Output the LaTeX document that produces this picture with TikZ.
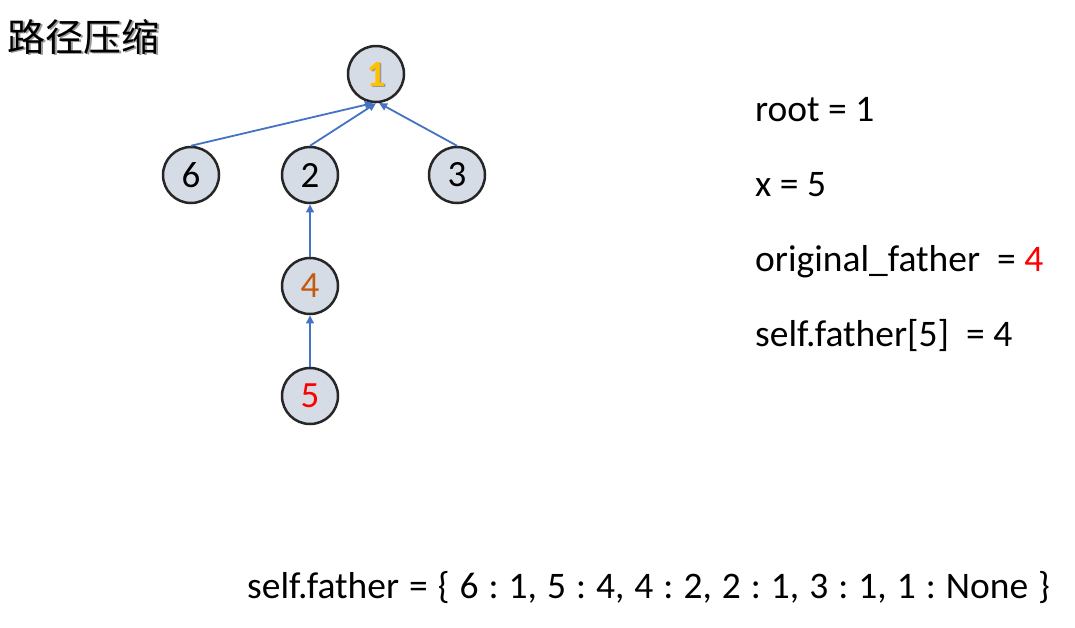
\documentclass[tikz,border=0pt]{standalone}
\usepackage{fontspec}
\setmainfont{Carlito}
\newfontfamily\cjk{Noto Sans CJK SC}
\usetikzlibrary{arrows.meta}
\frenchspacing
\definecolor{nodefill}{HTML}{D6DCE5}
\definecolor{nodeedge}{HTML}{262626}
\definecolor{linkblue}{HTML}{4472C4}
\definecolor{rootgold}{HTML}{FFC000}
\definecolor{midorange}{HTML}{C55A11}
\definecolor{hotred}{HTML}{FF0000}
\tikzset{
  treenode/.style={circle, draw=nodeedge, line width=2.5pt, fill=nodefill,
    minimum size=56pt, inner sep=0pt, font=\fontsize{37}{40}\selectfont},
  link/.style={draw=linkblue, line width=1.8pt,
    -{Triangle[length=8pt,width=7.5pt]}},
  label/.style={anchor=base west, inner sep=0pt, font=\fontsize{37.5}{42}\selectfont},
}
\begin{document}
\begin{tikzpicture}[x=1pt,y=-1pt]
\useasboundingbox[fill=white] (0,0) rectangle (1075,627);

% heading with its soft drop shadow
\node[anchor=base west, inner sep=0pt, text=black!40, font=\cjk\fontsize{38}{42}\selectfont] (titleshadow) at (9.2,52.8) {路径压缩};
\node[anchor=base west, inner sep=0pt, font=\cjk\fontsize{38}{42}\selectfont] (title) at (7.5,51) {路径压缩};

% tree of parent links
\node[treenode] (n1) at (376,74) {};
\node[anchor=center, inner sep=0pt, text=black!40, font=\bfseries\fontsize{37}{40}\selectfont] (n1shadow) at (377.5,75.5) {1};
\node[anchor=center, inner sep=0pt, text=rootgold, font=\bfseries\fontsize{37}{40}\selectfont] (n1label) at (376,74) {1};
\node[treenode] (n6) at (191,175) {6};
\node[treenode] (n2) at (310,175) {2};
\node[treenode] (n3) at (457,175) {3};
\node[treenode, text=midorange] (n4) at (310,286) {4};
\node[treenode, text=hotred] (n5) at (310,396) {5};

\draw[link] (n6.north) -- (n1.-96);
\draw[link] (n2.north) -- (n1.-90);
\draw[link] (n3.north) -- (n1.-84);
\draw[link] (n4.north) -- (n2.south);
\draw[link] (n5.north) -- (n4.south);

% variables
\node[label] (root) at (755,121) {root = 1};
\node[label] (x) at (755,196) {x = 5};
\node[label] (orig) at (755,271) {original\_father\ \ = \textcolor{hotred}{4}};
\node[label] (sf5) at (755,346) {self.father[5]\ \ = 4};

% the whole parent table, with slightly wider word spaces
\node[label] (dict) at (247,598) {\spaceskip=10pt\relax self.father = \{ 6 : 1, 5 : 4, 4 : 2, 2 : 1, 3 : 1, 1 : None \}};
\end{tikzpicture}
\end{document}
